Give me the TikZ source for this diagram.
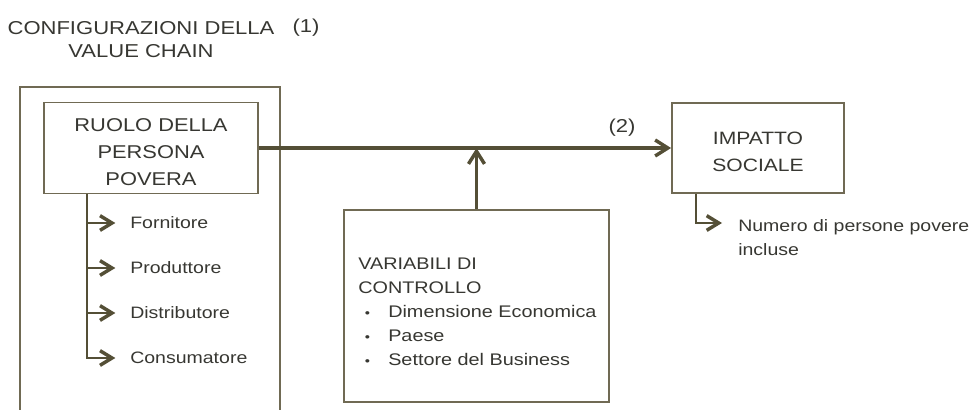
\documentclass[tikz,border=0pt]{standalone}
\usepackage{fontspec}
\setmainfont[FakeStretch=1.18]{Liberation Sans}
\usetikzlibrary{arrows.meta}
\definecolor{framecol}{RGB}{112,106,84}
\definecolor{arrowcol}{RGB}{84,79,54}
\definecolor{textcol}{RGB}{55,55,50}
\newcommand\vitem[1]{\makebox[22.5pt][l]{\hspace{5pt}\scalebox{0.75}{\textbullet}}#1}
\begin{document}
\begin{tikzpicture}[x=0.75pt,y=-0.75pt,
  box/.style={draw=framecol, line width=1.4pt, fill=white, inner sep=0pt},
  flow/.style={draw=arrowcol, line width=2.4pt,
    -{Straight Barb[length=9.5pt,width=12pt,line width=2.6pt]}},
  branch/.style={draw=arrowcol, line width=1.3pt,
    -{Straight Barb[length=9pt,width=11pt,line width=2.6pt]}},
  txt/.style={text=textcol, inner sep=0pt},
  headfont/.style={font=\fontsize{14pt}{17.25pt}\selectfont},
  bigfont/.style={font=\fontsize{13.9pt}{20.25pt}\selectfont},
  midfont/.style={font=\fontsize{13.4pt}{20.25pt}\selectfont},
  varfont/.style={font=\fontsize{12.6pt}{18pt}\selectfont},
  smallfont/.style={font=\fontsize{12.4pt}{18pt}\selectfont}
]
\useasboundingbox (0,0) rectangle (977,410);

% heading of the value chain column
\node[txt, headfont, align=center] (title) at (141,40)
  {CONFIGURAZIONI DELLA\\VALUE CHAIN};
\node[txt, headfont] (one) at (306,28) {(1)};

% open frame of the value chain column
\draw[framecol, line width=1.4pt] (20,410) -- (20,87) -- (280,87) -- (280,410);

% main boxes and their texts
\node[box, minimum width=160.5pt, minimum height=68.25pt] (ruolo) at (151,148) {};
\node[txt, bigfont, align=center] (ruolotext) at (151,152) {RUOLO DELLA\\PERSONA\\POVERA};
\node[box, minimum width=129pt, minimum height=67.5pt] (impatto) at (758,148) {};
\node[txt, midfont, align=center] (impattotext) at (758,152) {IMPATTO\\SOCIALE};
\node[box, minimum width=198.75pt, minimum height=144pt] (var) at (476.5,306) {};
\node[txt, varfont, align=left, anchor=north west] (vartext) at (358,258)
  {VARIABILI DI\\CONTROLLO\\\vitem{Dimensione Economica}\\\vitem{Paese}\\\vitem{Settore del Business}};

% roles of the poor
\node[txt, smallfont, anchor=west] (forn) at (130,223) {Fornitore};
\node[txt, smallfont, anchor=west] (prod) at (130,268) {Produttore};
\node[txt, smallfont, anchor=west] (dist) at (130,313) {Distributore};
\node[txt, smallfont, anchor=west] (cons) at (130,358) {Consumatore};

% social impact measure
\node[txt, smallfont, align=left, anchor=north west] (numero) at (738,219)
  {Numero di persone povere\\incluse};

% label of the main relation
\node[txt, headfont] (two) at (622,128) {(2)};

% connectors
\draw[flow] (ruolo.east) -- (impatto.west);
\draw[flow] (var.north) -- (var.north |- ruolo.east);

\coordinate (trunk) at ([xshift=33pt]ruolo.south west);
\draw[branch] (trunk) |- ([xshift=-11pt]cons.west);
\draw[branch] (trunk |- forn.west) -- ([xshift=-11pt]forn.west);
\draw[branch] (trunk |- prod.west) -- ([xshift=-11pt]prod.west);
\draw[branch] (trunk |- dist.west) -- ([xshift=-11pt]dist.west);

\coordinate (numtip) at ([xshift=-12pt,yshift=-3pt]numero.north west);
\draw[branch] ([xshift=18.75pt]impatto.south west) |- (numtip);
\end{tikzpicture}
\end{document}
